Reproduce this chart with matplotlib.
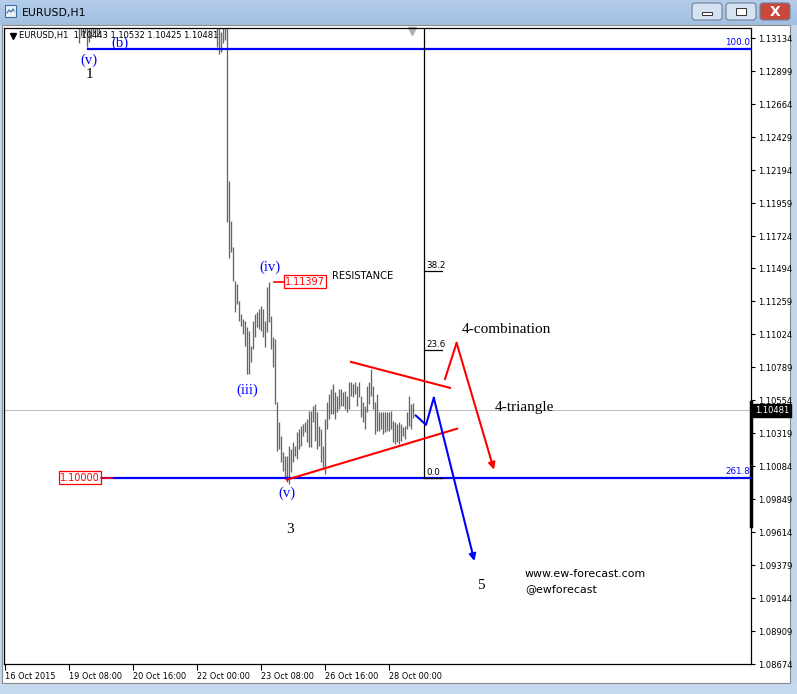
import numpy as np
import matplotlib
matplotlib.use('Agg')
import matplotlib.pyplot as plt
import matplotlib.transforms as mtransforms
from matplotlib.patches import Rectangle, FancyBboxPatch
from matplotlib.colors import LinearSegmentedColormap

# EURUSD H1 bars, bar index 0 = 16 Oct 2015 00:00
# first visible group (19 Oct), highs are above the chart
seg1_start = 37
seg1_high = [1.1338, 1.1339, 1.1341, 1.1340, 1.1337, 1.1336, 1.1338, 1.1340, 1.1339, 1.1341, 1.1340]
seg1_low = [1.13101, 1.13150, 1.13143, 1.13172, 1.13072, 1.13108, 1.13136, 1.13172, 1.13186, 1.13143, 1.13164]

# 22 Oct 10:00 onwards
seg2_start = 106
seg2_high = [1.1340, 1.1338, 1.13179, 1.1335, 1.1336, 1.1330, 1.12120, 1.11829, 1.11644, 1.11402,
             1.11381, 1.11260, 1.11168, 1.11132, 1.11118, 1.11076, 1.11047, 1.10941, 1.11118, 1.11168,
             1.11182, 1.11203, 1.11225, 1.11203, 1.11118, 1.11360, 1.11397, 1.11154, 1.11005, 1.10990,
             1.10543, 1.10400, 1.10301, 1.10187, 1.10159, 1.10159, 1.10230, 1.10209, 1.10259, 1.10230,
             1.10330, 1.10351, 1.10372, 1.10386, 1.10400, 1.10422, 1.10479, 1.10479, 1.10514, 1.10528,
             1.10472, 1.10372, 1.10351, 1.10230, 1.10422, 1.10543, 1.10599, 1.10635, 1.10671, 1.10614,
             1.10585, 1.10635, 1.10635, 1.10614, 1.10621, 1.10585, 1.10685, 1.10685, 1.10671, 1.10685,
             1.10656, 1.10685, 1.10585, 1.10543, 1.10514, 1.10656, 1.10685, 1.10777, 1.10656, 1.10543,
             1.10599, 1.10472, 1.10472, 1.10472, 1.10472, 1.10472, 1.10472, 1.10479, 1.10407, 1.10400,
             1.10386, 1.10400, 1.10386, 1.10365, 1.10372, 1.10472, 1.10585, 1.10528, 1.10532]
seg2_low = [1.13072, 1.13022, 1.13037, 1.13101, 1.13122, 1.11822, 1.11566, 1.11608, 1.11402, 1.11182,
            1.11239, 1.11118, 1.11083, 1.11026, 1.10941, 1.10742, 1.10742, 1.10827, 1.10919, 1.11005,
            1.11076, 1.11062, 1.11047, 1.11005, 1.10934, 1.11040, 1.11111, 1.10919, 1.10791, 1.10528,
            1.10194, 1.10209, 1.10116, 1.10052, 1.09996, 1.09970, 1.09960, 1.10045, 1.10116, 1.10159,
            1.10138, 1.10209, 1.10230, 1.10301, 1.10330, 1.10259, 1.10223, 1.10223, 1.10400, 1.10266,
            1.10209, 1.10230, 1.10116, 1.10067, 1.10031, 1.10351, 1.10422, 1.10457, 1.10457, 1.10422,
            1.10472, 1.10493, 1.10514, 1.10514, 1.10493, 1.10472, 1.10493, 1.10585, 1.10578, 1.10599,
            1.10514, 1.10578, 1.10436, 1.10400, 1.10351, 1.10472, 1.10528, 1.10585, 1.10493, 1.10315,
            1.10337, 1.10337, 1.10351, 1.10315, 1.10330, 1.10337, 1.10337, 1.10351, 1.10259, 1.10244,
            1.10259, 1.10244, 1.10266, 1.10301, 1.10280, 1.10351, 1.10372, 1.10351, 1.10425]

header_ohlc = ['1.10443', '1.10532', '1.10425', '1.10481']
last_price = 1.10481

price_ticks = [1.13134, 1.12899, 1.12664, 1.12429, 1.12194, 1.11959, 1.11724, 1.11494, 1.11259,
               1.11024, 1.10789, 1.10554, 1.10319, 1.10084, 1.09849, 1.09614, 1.09379, 1.09144,
               1.08909, 1.08674]
date_idx = [0, 32, 64, 96, 128, 160, 192]
date_labels = ['16 Oct 2015', '19 Oct 08:00', '20 Oct 16:00', '22 Oct 00:00',
               '23 Oct 08:00', '26 Oct 16:00', '28 Oct 00:00']

# fibonacci objects
fibo_ext_levels = [1.13058, 1.10000]
fibo_ext_names = ['100.0', '261.8']
fibo_ext_start = [41.5, 48.5]
fibo_ret_x = [209.5, 218.5]
fibo_ret_levels = [1.10000, 1.10910, 1.11473]
fibo_ret_names = ['0.0', '23.6', '38.2']
fibo_ret_top = 1.13856

# drawn lines (bar index, price)
tri_top_x, tri_top_y = [173, 222.5], [1.10827, 1.10642]
tri_bot_x, tri_bot_y = [141, 226], [1.09988, 1.10351]
red_path_x, red_path_y = [220, 225.8, 244.5], [1.10706, 1.10962, 1.10059]
blue_path_x, blue_path_y = [205.4, 210.5, 214.4, 234.7], [1.10445, 1.10379, 1.10571, 1.09408]

wave_blue = [('(v)', 42, 1.12980), ('(b)', 57.5, 1.13101), ('(iv)', 132.5, 1.11502),
             ('(iii)', 121, 1.10628), ('(v)', 141, 1.09889)]
wave_black = [('1', 42, 1.12873), ('3', 142.5, 1.09633), ('5', 238, 1.09235)]

W, H = 797, 694
fig = plt.figure(figsize=(W / 100, H / 100), dpi=100)
fig.patch.set_facecolor('#c2d6ee')

# window frame
chrome = fig.add_axes([0, 0, 1, 1])
cmap = LinearSegmentedColormap.from_list('tb', ['#b4cdea', '#a2bfe2'])
chrome.imshow(np.linspace(0, 1, 50).reshape(-1, 1), extent=[0, W, 25, 0], aspect='auto', cmap=cmap)
chrome.add_patch(Rectangle((0, 683), W, 11, color='#c6d9ef'))
chrome.add_patch(Rectangle((2, 25), 788, 658, facecolor='white', edgecolor='#8a8a8a', lw=0.8))
chrome.add_patch(Rectangle((5, 5), 11, 12, facecolor='#e8f0fa', edgecolor='#3a6ea5', lw=0.8))
chrome.plot([7, 9, 11, 13, 14], [13, 10, 12, 9, 11], color='#3a6ea5', lw=0.8)
chrome.text(22, 13, 'EURUSD,H1', fontsize=7.8, va='center', ha='left', family='DejaVu Sans')
for x0, fc in [(692, '#d5e2f2'), (726, '#d5e2f2'), (760, '#c9483b')]:
    chrome.add_patch(FancyBboxPatch((x0, 3), 30, 17, boxstyle='round,pad=0,rounding_size=3',
                                    facecolor=fc, edgecolor='#6f7f95', lw=0.8))
chrome.add_patch(Rectangle((702, 12), 10, 3, facecolor='white', edgecolor='#333333', lw=0.7))
chrome.add_patch(Rectangle((736, 8), 10, 7, facecolor='white', edgecolor='#333333', lw=0.7))
chrome.text(775, 11.5, 'X', fontsize=10, weight='bold', color='white', ha='center', va='center')
chrome.set_xlim(0, W)
chrome.set_ylim(H, 0)
chrome.axis('off')

ax = fig.add_axes([4 / W, 1 - 664 / H, 747 / W, 636 / H])
ax.set_facecolor('white')
ax.set_xlim(-0.5, 373)
ax.set_ylim(1.08685, 1.13207)

# bars
idx1 = seg1_start + np.arange(len(seg1_high))
idx2 = seg2_start + np.arange(len(seg2_high))
ax.vlines(np.concatenate([idx1, idx2]), np.concatenate([seg1_low, seg2_low]),
          np.concatenate([seg1_high, seg2_high]), color='#666666', lw=0.95)

# current price line
ax.axhline(last_price, color='#c0c0c0', lw=0.8, zorder=1)

# fibo expansion (blue)
for lev, name, x0 in zip(fibo_ext_levels, fibo_ext_names, fibo_ext_start):
    ax.plot([x0, 373], [lev, lev], color='#0000ff', lw=1.6, zorder=3)
    ax.text(372.5, lev + 0.00012, name, color='#0000ff', fontsize=6.3, ha='right', va='bottom')

# fibo retracement (black)
ax.plot([fibo_ret_x[0]] * 2, [fibo_ret_levels[0], fibo_ret_top], color='black', lw=0.9, zorder=4)
for lev, name in zip(fibo_ret_levels, fibo_ret_names):
    ax.plot(fibo_ret_x, [lev, lev], color='black', lw=0.9, zorder=4)
    ax.text(fibo_ret_x[0] + 1, lev + 0.00010, name, fontsize=6.3, ha='left', va='bottom')

# triangle and projection paths
ax.plot(tri_top_x, tri_top_y, color='#ff0000', lw=1.5, zorder=5)
ax.plot(tri_bot_x, tri_bot_y, color='#ff0000', lw=1.5, zorder=5)
ax.plot(red_path_x[:-1], red_path_y[:-1], color='#ff0000', lw=1.5, zorder=5)
ax.annotate('', xy=(red_path_x[-1], red_path_y[-1]), xytext=(red_path_x[-2], red_path_y[-2]),
            arrowprops=dict(arrowstyle='-|>', color='#ff0000', lw=1.5, mutation_scale=10,
                            shrinkA=0, shrinkB=0), zorder=5)
ax.plot(blue_path_x[:-1], blue_path_y[:-1], color='#0000ff', lw=1.5, zorder=5)
ax.annotate('', xy=(blue_path_x[-1], blue_path_y[-1]), xytext=(blue_path_x[-2], blue_path_y[-2]),
            arrowprops=dict(arrowstyle='-|>', color='#0000ff', lw=1.5, mutation_scale=10,
                            shrinkA=0, shrinkB=0), zorder=5)

# price labels
ax.plot([134.5, 139.5], [1.11397, 1.11397], color='#ff0000', lw=1.2)
ax.text(140, 1.11397, '1.11397', color='#ff0000', fontsize=7, ha='left', va='center',
        bbox=dict(boxstyle='square,pad=0.15', fc='white', ec='#ff0000', lw=0.9))
ax.plot([48, 53.5], [1.10000, 1.10000], color='#ff0000', lw=1.2, zorder=6)
ax.text(47.5, 1.10000, '1.10000', color='#ff0000', fontsize=7, ha='right', va='center',
        bbox=dict(boxstyle='square,pad=0.15', fc='white', ec='#ff0000', lw=0.9))

# wave labels
serif = 'Liberation Serif'
for t, x, y in wave_blue:
    ax.text(x, y, t, color='#0000ff', fontsize=10.5, family=serif, ha='center', va='center')
for t, x, y in wave_black:
    ax.text(x, y, t, color='black', fontsize=11, family=serif, ha='center', va='center')
ax.text(228.5, 1.11061, '4-combination', fontsize=11, family=serif, ha='left', va='center')
ax.text(245, 1.10500, '4-triangle', fontsize=11, family=serif, ha='left', va='center')
ax.text(163.5, 1.11438, 'RESISTANCE', fontsize=7.2, ha='left', va='center')
ax.text(260, 1.09313, 'www.ew-forecast.com', fontsize=7.9, ha='left', va='center')
ax.text(260, 1.09207, '@ewforecast', fontsize=7.9, ha='left', va='center')

# header line
ax.plot([0.012], [0.988], marker='v', color='black', ms=4, transform=ax.transAxes, clip_on=False)
ax.text(0.02, 0.988, 'EURUSD,H1  ' + ' '.join(header_ohlc), transform=ax.transAxes,
        fontsize=6.0, ha='left', va='center', zorder=2)

# chart shift marker
ax.plot([203.5], [0.995], marker='v', color='#b0b0b0', ms=6,
        transform=mtransforms.blended_transform_factory(ax.transData, ax.transAxes), clip_on=False)

# axes
ax.yaxis.tick_right()
ax.set_yticks(price_ticks)
ax.set_yticklabels(['%.5f' % p for p in price_ticks])
ax.tick_params(axis='y', direction='out', length=3, width=0.8, pad=2, labelsize=6.0)
ax.set_xticks(date_idx)
ax.set_xticklabels(date_labels, ha='left')
ax.tick_params(axis='x', direction='out', length=4, width=0.8, pad=2, labelsize=5.9)
for s in ax.spines.values():
    s.set_color('black')
    s.set_linewidth(0.9)

# last price tag and the bar on the price scale
yt = mtransforms.blended_transform_factory(ax.transAxes, ax.transData)
ax.text(1.005, last_price, '1.10481', transform=yt, fontsize=6.0, color='white', ha='left',
        va='center', bbox=dict(boxstyle='square,pad=0.2', fc='black', ec='black'), clip_on=False)
ax.plot([1.0, 1.0], [1.10543, 1.09655], transform=yt, color='black', lw=2.5, clip_on=False)

fig.savefig('out.png', dpi=100)
